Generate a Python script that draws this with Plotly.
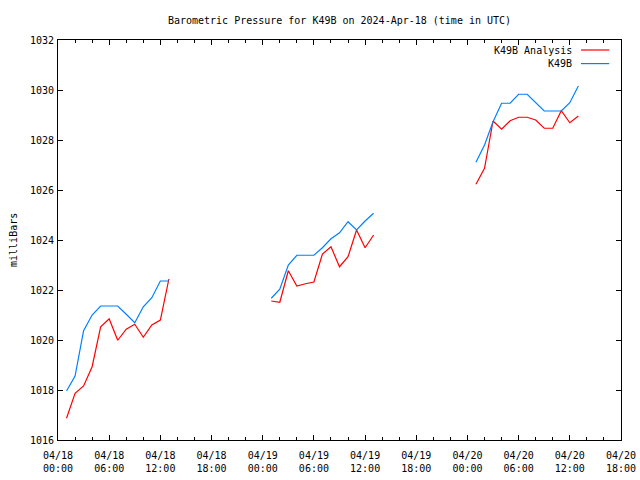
import plotly.graph_objects as go

# --- data (hourly, UTC) ---
times = (
    [f"2024-04-18 {h:02d}:00" for h in range(1, 14)] + ["2024-04-18 18:00"] +
    [f"2024-04-19 {h:02d}:00" for h in range(1, 14)] + ["2024-04-19 18:00"] +
    [f"2024-04-20 {h:02d}:00" for h in range(1, 14)]
)
analysis = [
    1016.87, 1017.87, 1018.16, 1018.93, 1020.53, 1020.85, 1019.99, 1020.43, 1020.63, 1020.11, 1020.60, 1020.80, 1022.44,
    None,
    1021.56, 1021.51, 1022.77, 1022.16, 1022.25, 1022.32, 1023.44, 1023.73, 1022.93, 1023.33, 1024.40, 1023.69, 1024.20,
    None,
    1026.23, 1026.87, 1028.76, 1028.43, 1028.77, 1028.91, 1028.91, 1028.80, 1028.47, 1028.47, 1029.17, 1028.69, 1028.96,
]
observed = [
    1017.96, 1018.56, 1020.37, 1021.00, 1021.36, 1021.36, 1021.36, 1021.03, 1020.69, 1021.33, 1021.69, 1022.36, 1022.36,
    None,
    1021.67, 1022.03, 1023.00, 1023.39, 1023.39, 1023.39, 1023.69, 1024.05, 1024.29, 1024.73, 1024.40, 1024.76, 1025.07,
    None,
    1027.11, 1027.80, 1028.73, 1029.47, 1029.47, 1029.83, 1029.83, 1029.49, 1029.16, 1029.16, 1029.16, 1029.49, 1030.16,
]

series_names = ["K49B Analysis", "K49B"]
series_colors = ["#ff0000", "#0080ff"]

FONT = "DejaVu Sans Mono"

fig = go.Figure()
fig.add_trace(go.Scatter(x=times, y=analysis, mode="lines", name=series_names[0],
                         line=dict(color=series_colors[0], width=1.2), connectgaps=False))
fig.add_trace(go.Scatter(x=times, y=observed, mode="lines", name=series_names[1],
                         line=dict(color=series_colors[1], width=1.2), connectgaps=False))

axis_common = dict(
    showline=True, linecolor="black", linewidth=1, mirror="allticks",
    ticks="inside", ticklen=5, tickcolor="black", tickwidth=1,
    showgrid=False, zeroline=False,
    ticklabeloverflow="allow",
    tickfont=dict(family=FONT, size=10, color="black"),
)

fig.update_xaxes(
    type="date",
    range=["2024-04-18 00:00", "2024-04-20 18:00"],
    dtick=6 * 3600 * 1000,
    tick0="2024-04-18 00:00",
    tickformat="%m/%d<br>%H:%M",
    ticklabelstandoff=6,
    minor=dict(dtick=2 * 3600 * 1000, ticks="inside", ticklen=3, tickcolor="black", showgrid=False),
    **axis_common,
)
fig.update_yaxes(
    range=[1016, 1032],
    dtick=2,
    ticklabelstandoff=1,
    **axis_common,
)

annotations = [
    dict(text="milliBars", xref="paper", yref="paper", x=-0.080, y=0.5, textangle=-90,
         showarrow=False, font=dict(family=FONT, size=10, color="black"), xanchor="center", yanchor="middle"),
]
shapes = []
legend_y = [0.975, 0.941]
for name, color, ly in zip(series_names, series_colors, legend_y):
    annotations.append(dict(text=name, xref="paper", yref="paper", x=0.916, y=ly, showarrow=False,
                            xanchor="right", yanchor="middle", font=dict(family=FONT, size=10, color="black")))
    shapes.append(dict(type="line", xref="paper", yref="paper", x0=0.929, x1=0.979, y0=ly, y1=ly,
                       line=dict(color=color, width=1.2)))

fig.update_layout(
    width=640, height=480,
    margin=dict(l=58, r=19, t=40, b=40, autoexpand=False),
    paper_bgcolor="white", plot_bgcolor="white",
    showlegend=False,
    hovermode=False,
    title=dict(text="Barometric Pressure for K49B on 2024-Apr-18 (time in UTC)",
               x=339.5 / 640, xanchor="center", y=1 - 20 / 480, yanchor="middle",
               font=dict(family=FONT, size=10, color="black")),
    annotations=annotations,
    shapes=shapes,
)

# remove the default page margin so the 640x480 figure fills the window exactly
fig.write_html(
    "out.html",
    config={"displayModeBar": False, "staticPlot": True},
    post_script="document.body.style.margin='0';document.body.style.overflow='hidden';",
)
